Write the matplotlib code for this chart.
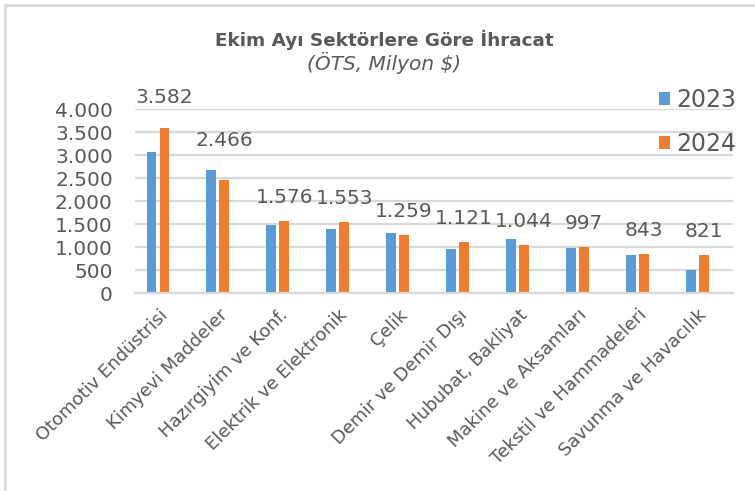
import numpy as np
import matplotlib.pyplot as plt
from matplotlib.patches import Rectangle
from matplotlib.transforms import ScaledTranslation

# data
sectors = ["Otomotiv Endüstrisi", "Kimyevi Maddeler", "Hazırgiyim ve Konf.",
           "Elektrik ve Elektronik", "Çelik", "Demir ve Demir Dışı",
           "Hububat, Bakliyat", "Makine ve Aksamları", "Tekstil ve Hammadeleri",
           "Savunma ve Havacılık"]
exports_2023 = [3060, 2670, 1482, 1395, 1302, 961, 1172, 990, 825, 499]
exports_2024 = [3582, 2466, 1576, 1553, 1259, 1121, 1044, 997, 843, 821]
yticks = [0, 500, 1000, 1500, 2000, 2500, 3000, 3500, 4000]

BLUE = "#5B9BD5"
ORANGE = "#ED7D31"
GRID = "#D9D9D9"
TXT = "#595959"

plt.rcParams['font.family'] = ['DejaVu Sans']

fig = plt.figure(figsize=(7.55, 4.91), dpi=100)
ax = fig.add_axes([0.1788, 0.4027, 0.7921, 0.3753])

x = np.arange(len(sectors))
bw = 0.165
off = 0.108
ax.bar(x - off, exports_2023, bw, color=BLUE, label="2023", zorder=3)
ax.bar(x + off, exports_2024, bw, color=ORANGE, label="2024", zorder=3)

# value labels over the 2024 bars (first two sit a bit higher in the original)
for i, v in enumerate(exports_2024):
    txt = f"{v:,}".replace(",", ".")
    extra = 5 if i == 0 else (11 if i == 1 else 0)
    ax.annotate(txt, (x[i] + off, v), xytext=(0, 17 + extra),
                textcoords="offset points", ha="center", va="center",
                fontsize=14.5, color=TXT)

ax.set_ylim(0, 4000)
ax.set_yticks(yticks)
ax.set_yticklabels([f"{t:,}".replace(",", ".") for t in yticks],
                   fontsize=14.5, color=TXT)
ax.set_xlim(-0.384, 9.6)
ax.set_xticks(x)
ax.set_xticklabels(sectors, rotation=45, ha="right", va="top",
                   rotation_mode="anchor", fontsize=13, color=TXT)
ax.tick_params(axis="y", length=0, pad=16)
ax.tick_params(axis="x", length=0, pad=9)
shift = ScaledTranslation(0.5 / 72, 0, fig.dpi_scale_trans)
for lbl in ax.get_xticklabels():
    lbl.set_transform(lbl.get_transform() + shift)

ax.yaxis.grid(True, color=GRID, linewidth=1.6, zorder=0)
for s in ["top", "right", "left"]:
    ax.spines[s].set_visible(False)
ax.spines["bottom"].set_color(GRID)
ax.spines["bottom"].set_linewidth(1.6)
ax.spines["bottom"].set_zorder(4)

ax.legend(loc="upper left", bbox_to_anchor=(0.84, 1.23), frameon=False,
          fontsize=17, handlelength=0.5, handleheight=0.5,
          handletextpad=0.25, labelspacing=0.85, labelcolor=TXT)

fig.text(384 / 755, 1 - 40 / 491, "Ekim Ayı Sektörlere Göre İhracat",
         ha="center", va="center", fontsize=13.2, fontweight="bold", color=TXT)
fig.text(384 / 755, 1 - 63 / 491, "(ÖTS, Milyon $)",
         ha="center", va="center", fontsize=14.5, style="italic", color=TXT)

# outer frame of the chart box
fig.patches.append(Rectangle((5 / 755, -0.1), 1.2, 1.1 - 5 / 491,
                             transform=fig.transFigure, fill=False,
                             edgecolor=GRID, linewidth=2))

fig.savefig("out.png", dpi=100)
